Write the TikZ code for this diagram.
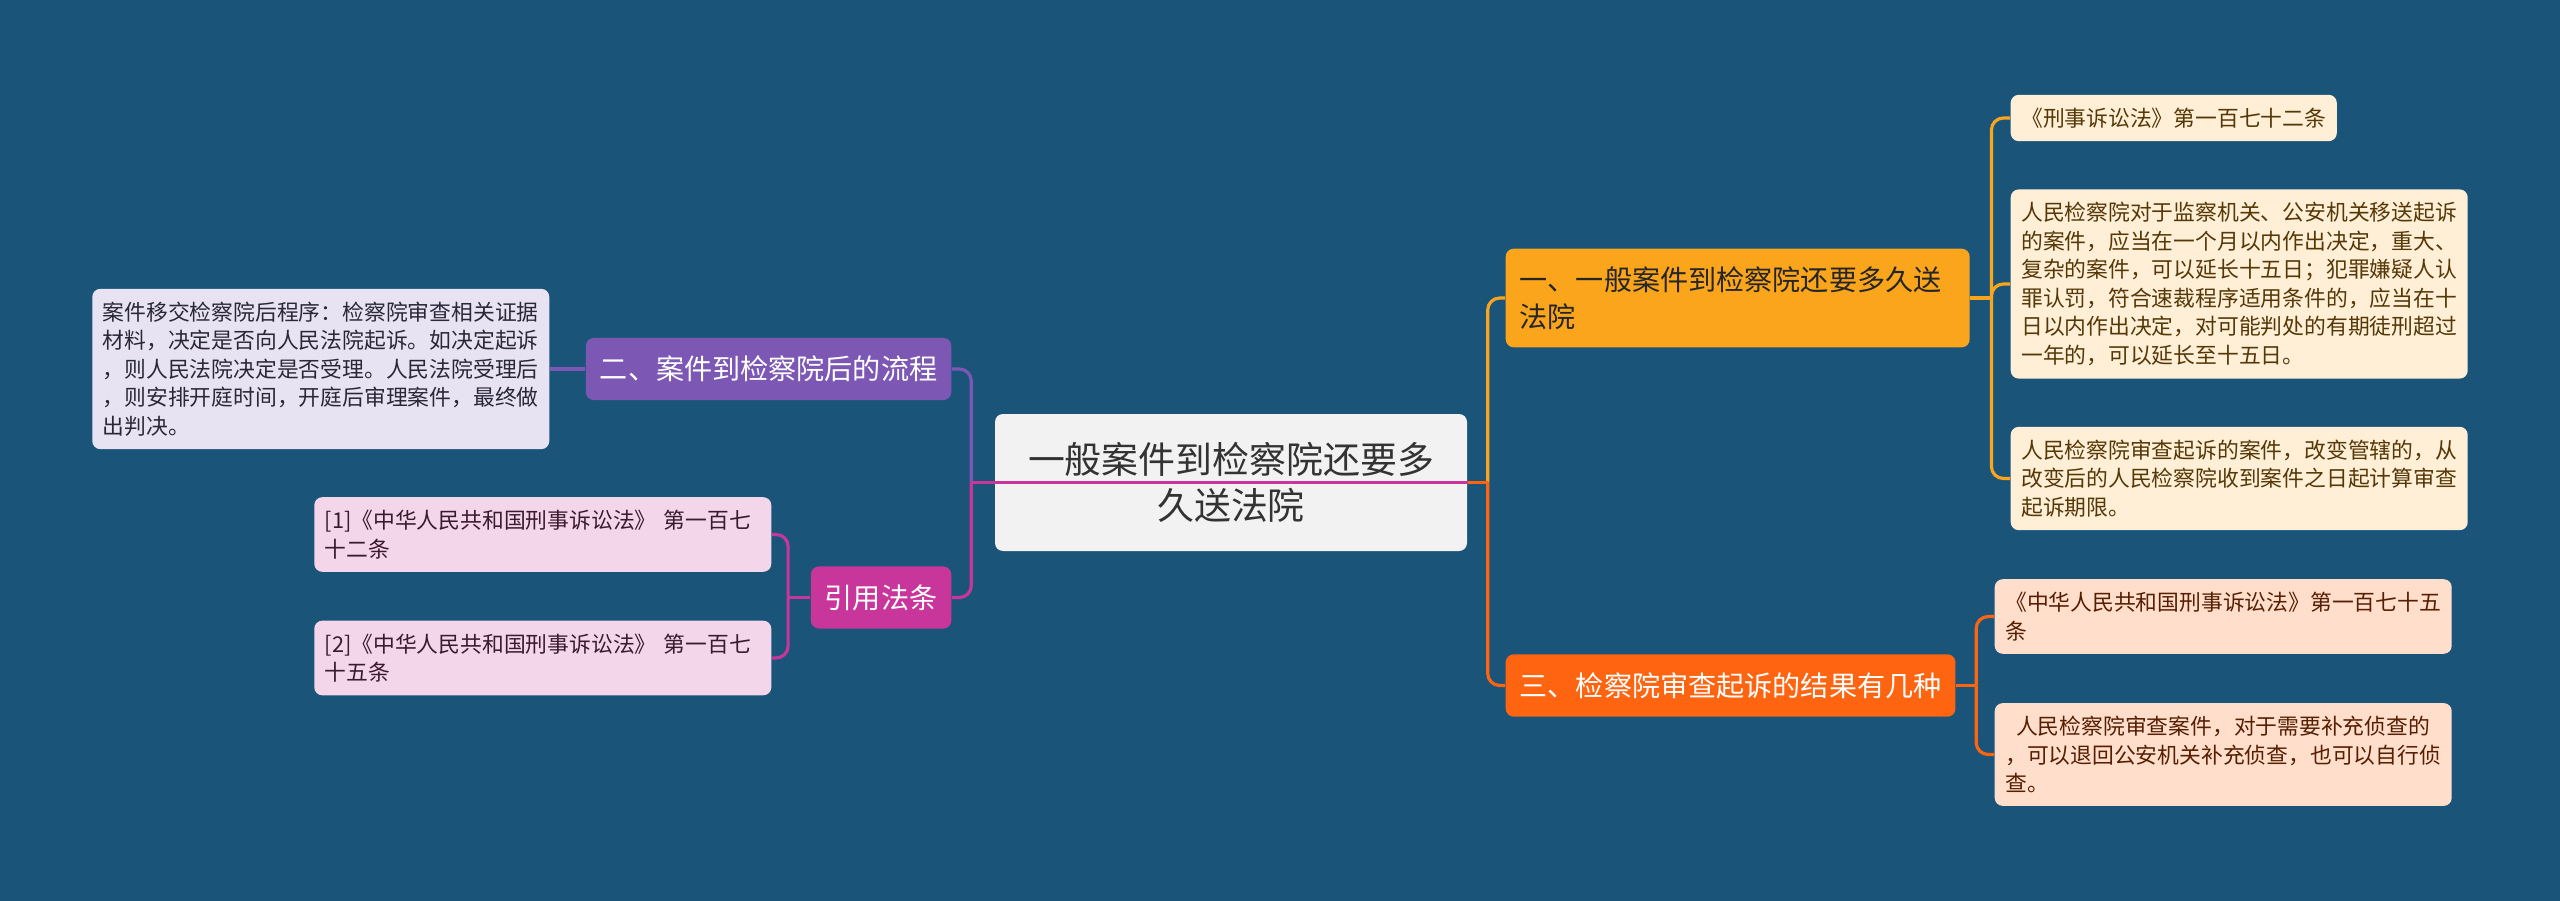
\documentclass[tikz,border=0pt]{standalone}
\usepackage{fontspec}
\setmainfont{Noto Sans CJK SC}
\usetikzlibrary{positioning}
\definecolor{bg}{HTML}{1B5479}
\definecolor{rootfill}{HTML}{F2F2F2}
\definecolor{roottext}{HTML}{333333}
\definecolor{gold}{HTML}{FAA51C}
\definecolor{goldleaf}{HTML}{FEEFD6}
\definecolor{goldtext}{HTML}{563808}
\definecolor{flame}{HTML}{FF6410}
\definecolor{flameleaf}{HTML}{FFDECB}
\definecolor{flametext}{HTML}{561E02}
\definecolor{violet}{HTML}{7C58B4}
\definecolor{violetleaf}{HTML}{E7E3F3}
\definecolor{violettext}{HTML}{2A2838}
\definecolor{plum}{HTML}{C8359B}
\definecolor{plumleaf}{HTML}{F4D6EA}
\definecolor{plumtext}{HTML}{3A1A30}
\tikzset{
  topic/.style={rounded corners=0.08cm, inner xsep=0.14cm, inner ysep=0.18cm,
                font=\fontsize{8}{10.4}\selectfont, align=left},
  rootbox/.style={topic, fill=rootfill, text=roottext, minimum width=4.72cm,
                  minimum height=1.37cm, align=center, font=\fontsize{10.5}{13.3}\selectfont},
  leaf/.style={rounded corners=0.08cm, inner xsep=0.105cm, inner ysep=0.13cm,
               font=\fontsize{6.2}{8.1}\selectfont, align=left},
  note/.style={leaf, text width=4.36cm},
  link/.style={line width=0.9pt, rounded corners=0.12cm},
}

\begin{document}
\begin{tikzpicture}

\fill[bg] (0,0) rectangle (25.6,-9.01);
\useasboundingbox (0,0) rectangle (25.6,-9.01);

% --- root ---
\node[rootbox] (root) at (12.31,-4.825) {一般案件到检察院还要多\\久送法院};

% --- right branches ---
\node[topic, fill=gold, text=black!85, text width=4.36cm, anchor=west] (b1) at (15.05,-2.98)
  {一、一般案件到检察院还要多久送\\法院};
\node[topic, fill=flame, text=white, anchor=west] (b3) at (15.05,-6.855)
  {三、检察院审查起诉的结果有几种};

\node[leaf, fill=goldleaf, text=goldtext, anchor=west] (a1) at (20.10,-1.18)
  {《刑事诉讼法》第一百七十二条};
\node[note, fill=goldleaf, text=goldtext, anchor=west] (a2) at (20.10,-2.84)
  {人民检察院对于监察机关、公安机关移送起诉\\的案件，应当在一个月以内作出决定，重大、\\复杂的案件，可以延长十五日；犯罪嫌疑人认\\罪认罚，符合速裁程序适用条件的，应当在十\\日以内作出决定，对可能判处的有期徒刑超过\\一年的，可以延长至十五日。};
\node[note, fill=goldleaf, text=goldtext, anchor=west] (a3) at (20.10,-4.785)
  {人民检察院审查起诉的案件，改变管辖的，从\\改变后的人民检察院收到案件之日起计算审查\\起诉期限。};

\node[note, fill=flameleaf, text=flametext, anchor=west] (c1) at (19.94,-6.165)
  {《中华人民共和国刑事诉讼法》第一百七十五\\条};
\node[note, fill=flameleaf, text=flametext, anchor=west] (c2) at (19.94,-7.545)
  {\hspace*{0.5em}人民检察院审查案件，对于需要补充侦查的\\，可以退回公安机关补充侦查，也可以自行侦\\查。};

% --- left branches ---
\node[topic, fill=violet, text=white, anchor=east] (b2) at (9.52,-3.69)
  {二、案件到检察院后的流程};
\node[note, fill=violetleaf, text=violettext, anchor=east] (l2) at (5.50,-3.69)
  {案件移交检察院后程序：检察院审查相关证据\\材料，决定是否向人民法院起诉。如决定起诉\\，则人民法院决定是否受理。人民法院受理后\\，则安排开庭时间，开庭后审理案件，最终做\\出判决。};

\node[topic, fill=plum, text=white, anchor=east] (cite) at (9.52,-5.975) {引用法条};
\node[note, fill=plumleaf, text=plumtext, anchor=east] (r1) at (7.72,-5.345)
  {[1]《中华人民共和国刑事诉讼法》 第一百七\\十二条};
\node[note, fill=plumleaf, text=plumtext, anchor=east] (r2) at (7.72,-6.58)
  {[2]《中华人民共和国刑事诉讼法》 第一百七\\十五条};

% --- connectors ---
\coordinate[right=0.2cm of root.east] (jr);
\coordinate[left=0.23cm of root.west] (jl);
\coordinate[right=0.21cm of b1.east] (j1);
\coordinate[right=0.2cm of b3.east] (j3);
\coordinate[left=0.22cm of cite.west] (jc);

\draw[link, draw=gold] (jr) |- (b1.west);
\draw[link, draw=flame] (jr) |- (b3.west);
\draw[link, draw=flame] (root.east) -- (jr);

\draw[link, draw=violet] (jl) |- (b2.east);
\draw[link, draw=plum] (jl) |- (cite.east);
\draw[link, draw=plum] (root.east) -- (jl);

\draw[link, draw=gold] (b1.east) -- (j1);
\foreach \n in {a1,a2,a3} \draw[link, draw=gold] (j1) |- (\n.west);
\draw[link, draw=flame] (b3.east) -- (j3);
\foreach \n in {c1,c2} \draw[link, draw=flame] (j3) |- (\n.west);

\draw[link, draw=violet] (b2.west) -- (l2.east);
\draw[link, draw=plum] (cite.west) -- (jc);
\foreach \n in {r1,r2} \draw[link, draw=plum] (jc) |- (\n.east);

\end{tikzpicture}
\end{document}
